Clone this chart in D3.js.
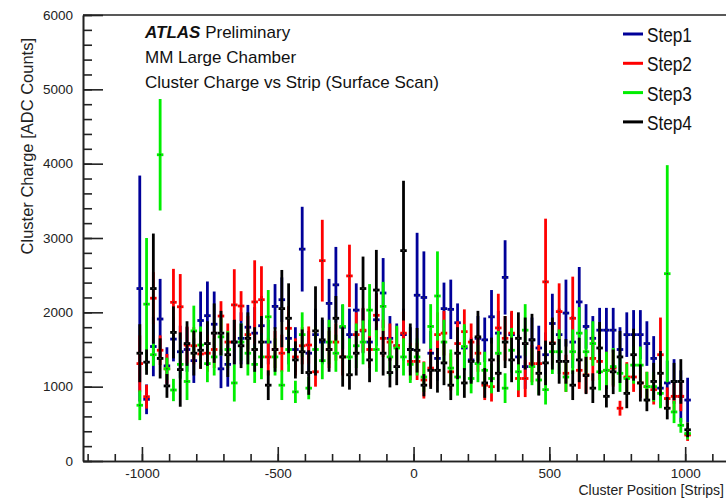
<!DOCTYPE html>
<html lang="en">
  <head>
    <meta charset="UTF-8" />
    <title>MM Large Chamber – Cluster Charge vs Strip</title>
    <script src="https://d3js.org/d3.v7.min.js"></script>
    <style>
      body {
        margin: 0;
        background: #fff;
      }
      svg {
        display: block;
        font-family: 'Liberation Sans', Arial, sans-serif;
      }
      .axis path,
      .axis line {
        stroke: #222;
        stroke-width: 1.6;
      }
      .axis text {
        fill: #222;
        font-size: 13.5px;
      }
    </style>
  </head>
  <body>
    <div id="chart"></div>
    <script>
      // strip bin centres (same grid for all four steps)
      const strips = [
        -1008, -983, -958, -933, -908, -884, -859, -834, -809, -784,
        -759, -734, -709, -684, -660, -635, -610, -585, -560, -535,
        -510, -485, -460, -435, -410, -386, -361, -336, -311, -286,
        -261, -236, -211, -186, -162, -137, -112, -87, -62, -37,
        -12, 13, 38, 63, 88, 112, 137, 162, 187, 212,
        237, 262, 287, 312, 337, 361, 386, 411, 436, 461,
        486, 511, 536, 561, 586, 610, 635, 660, 685, 710,
        735, 760, 785, 810, 835, 859, 884, 909, 934, 959,
        984, 1009,
      ];
      const binHalf = 12;

      // Step1
      const step1 = [
        2320, 830, 1540, 1910, 1280, 1640, 1470, 1500, 1350, 1890,
        1955, 1840, 1240, 1300, 1600, 1650, 1800, 1720, 1820, 1600,
        2080, 2170, 1650, 1500, 2850, 1450, 1700, 1600, 2120, 2370,
        1800, 1700, 2030, 1750, 1600, 1900, 2260, 1650, 1550, 1700,
        1500, 2230, 2200, 1450, 1380, 2050, 2040, 1860, 1520, 1360,
        1650, 1630, 1940, 1720, 2470, 1700, 1400, 1270, 1630, 1520,
        1430, 1850, 1700, 1990, 1600, 2140, 1810, 1650, 1760, 1760,
        1760, 1500, 1700, 1700, 1700, 1580, 1380, 980, 1050, 1070,
        870, 820,
      ];
      const step1Err = [
        1520, 200, 400, 540, 250, 300, 350, 300, 300, 390,
        460, 440, 260, 300, 300, 350, 300, 350, 400, 300,
        300, 300, 350, 300, 570, 300, 350, 300, 330, 510,
        300, 350, 360, 300, 300, 350, 470, 300, 300, 350,
        300, 840, 620, 300, 300, 350, 400, 260, 300, 300,
        300, 300, 360, 300, 500, 300, 300, 300, 300, 300,
        300, 400, 350, 450, 350, 470, 300, 300, 300, 300,
        300, 300, 300, 330, 330, 300, 300, 250, 300, 300,
        350, 300,
      ];

      // Step2
      const step2 = [
        1310, 865, 2190, 1490, 1240, 2135, 2075, 1560, 1550, 1440,
        1450, 1500, 1950, 1600, 2100, 2085, 1700, 2140, 2170, 1400,
        1500, 1450, 1785, 1400, 1550, 1560, 1200, 2695, 1500, 1600,
        1400, 2490, 1700, 1760, 1500, 1960, 1650, 1600, 1550, 1720,
        1340, 1340, 1090, 1250, 1700, 1720, 1200, 1580, 1740, 1600,
        1450, 1020, 1000, 1790, 1650, 1720, 1110, 1110, 1310, 1310,
        2410, 1590, 2010, 1180, 1920, 1220, 1160, 1380, 1340, 1220,
        1250, 710, 1130, 1130, 1050, 1000, 960, 1430, 840, 870,
        870, 350,
      ];
      const step2Err = [
        380, 160, 350, 200, 200, 450, 440, 250, 250, 200,
        250, 250, 200, 250, 480, 200, 250, 560, 450, 250,
        250, 250, 300, 250, 250, 250, 200, 550, 250, 250,
        250, 420, 300, 300, 250, 300, 250, 250, 250, 300,
        250, 250, 250, 250, 300, 300, 250, 300, 300, 250,
        250, 200, 200, 460, 300, 300, 250, 250, 250, 250,
        850, 300, 380, 250, 560, 250, 250, 300, 250, 250,
        250, 100, 200, 200, 200, 200, 200, 500, 150, 200,
        200, 80,
      ];

      // Step3
      const step3 = [
        750, 2110, 1430, 4120, 1240, 955, 1300, 1070, 1750, 1560,
        1310, 1400, 1670, 1500, 1050, 1600, 1450, 1300, 1400, 1940,
        1400, 1020, 1500, 930, 1700, 980, 1500, 1350, 1600, 1450,
        1810, 1400, 1550, 1600, 2030, 1500, 2080, 1400, 1520, 1400,
        1300, 1400, 1130, 1810, 2220, 1600, 1250, 1130, 1540, 1110,
        1310, 1220, 1110, 1450, 980, 1490, 1200, 1760, 1270, 1090,
        960, 1470, 1470, 1130, 1470, 1720, 1470, 1580, 1200, 1220,
        1270, 1180, 1110, 1290, 1290, 1000, 1000, 910, 2520, 660,
        480, 370,
      ];
      const step3Err = [
        200, 890, 150, 750, 150, 150, 200, 250, 340, 250,
        250, 250, 250, 250, 250, 250, 300, 250, 300, 360,
        250, 200, 300, 150, 300, 150, 300, 250, 300, 250,
        300, 250, 300, 300, 350, 300, 330, 250, 300, 250,
        250, 250, 200, 300, 600, 300, 250, 250, 300, 200,
        250, 250, 200, 300, 200, 300, 250, 350, 250, 200,
        200, 300, 300, 200, 300, 350, 300, 300, 250, 250,
        250, 250, 200, 250, 250, 200, 200, 200, 1460, 150,
        100, 80,
      ];

      // Step4
      const step4 = [
        1450, 1330, 2320, 1380, 1010, 1730, 1230, 1580, 1450, 1490,
        1580, 1720, 1720, 1430, 1600, 1550, 1650, 1500, 1600, 1020,
        1500, 2050, 1920, 1360, 1470, 1190, 1750, 1630, 1500, 1920,
        1400, 1160, 1450, 2320, 1360, 2300, 1450, 1190, 1270, 2830,
        1500, 1490, 1020, 1220, 1220, 1320, 1020, 1450, 1050, 1340,
        1670, 1050, 1360, 1180, 1600, 1360, 1650, 1580, 1630, 1180,
        1320, 1580, 1340, 1340, 1020, 1360, 1150, 980, 1520, 870,
        1200, 1400, 910, 1430, 1050, 820, 1070, 1180, 710, 1070,
        1070, 420,
      ];
      const step4Err = [
        390, 170, 740, 270, 160, 350, 500, 300, 300, 250,
        300, 400, 300, 300, 300, 300, 350, 300, 350, 200,
        300, 520, 470, 250, 300, 300, 600, 300, 300, 300,
        400, 200, 300, 430, 300, 540, 300, 200, 250, 940,
        350, 300, 150, 250, 300, 300, 200, 350, 200, 300,
        350, 200, 300, 250, 350, 300, 350, 350, 350, 300,
        300, 350, 300, 300, 200, 300, 250, 200, 350, 150,
        300, 350, 200, 350, 250, 150, 250, 300, 150, 250,
        300, 100,
      ];

      const seriesNames = ['Step1', 'Step2', 'Step3', 'Step4'];
      const seriesColors = ['#000099', '#ff0000', '#00ee00', '#000000'];
      const xMajorTicks = [-1000, -500, 0, 500, 1000];
      const yMajorTicks = [0, 1000, 2000, 3000, 4000, 5000, 6000];
      const infoLines = ['MM Large Chamber', 'Cluster Charge vs Strip (Surface Scan)'];

      const width = 726,
        height = 501;

      const series = [
        { name: seriesNames[0], color: seriesColors[0], y: step1, err: step1Err },
        { name: seriesNames[1], color: seriesColors[1], y: step2, err: step2Err },
        { name: seriesNames[2], color: seriesColors[2], y: step3, err: step3Err },
        { name: seriesNames[3], color: seriesColors[3], y: step4, err: step4Err },
      ];

      const x = d3.scaleLinear().domain([-1217, 1165]).range([83, 730]);
      const y = d3.scaleLinear().domain([0, 6000]).range([461, 15]);

      const svg = d3
        .select('#chart')
        .append('svg')
        .attr('width', width)
        .attr('height', height);

      // frame top line
      svg
        .append('line')
        .attr('x1', 83)
        .attr('x2', 730)
        .attr('y1', 15)
        .attr('y2', 15)
        .attr('stroke', '#222')
        .attr('stroke-width', 1.6);

      // x axis: minor ticks, then major ticks + labels
      svg
        .append('g')
        .attr('class', 'axis')
        .attr('transform', 'translate(0,461)')
        .call(
          d3
            .axisBottom(x)
            .tickValues(d3.range(-1200, 1101, 100))
            .tickSize(-7)
            .tickSizeOuter(0)
            .tickFormat('')
        );
      svg
        .append('g')
        .attr('class', 'axis')
        .attr('transform', 'translate(0,461)')
        .call(
          d3
            .axisBottom(x)
            .tickValues(xMajorTicks)
            .tickSize(-14)
            .tickSizeOuter(0)
            .tickPadding(7)
            .tickFormat((d) => String(d))
        );

      // y axis
      svg
        .append('g')
        .attr('class', 'axis')
        .attr('transform', 'translate(83,0)')
        .call(
          d3
            .axisLeft(y)
            .tickValues(d3.range(0, 6001, 200))
            .tickSize(-9)
            .tickSizeOuter(0)
            .tickFormat('')
        );
      svg
        .append('g')
        .attr('class', 'axis')
        .attr('transform', 'translate(83,0)')
        .call(
          d3
            .axisLeft(y)
            .tickValues(yMajorTicks)
            .tickSize(-20)
            .tickSizeOuter(0)
            .tickPadding(10)
            .tickFormat((d) => String(d))
        );
      svg.selectAll('.axis .tick text').attr('font-family', null);

      // axis titles
      svg
        .append('text')
        .attr('x', 724)
        .attr('y', 495)
        .attr('text-anchor', 'end')
        .attr('font-size', 14)
        .attr('fill', '#222')
        .text('Cluster Position [Strips]');
      svg
        .append('text')
        .attr('transform', 'translate(33,38) rotate(-90)')
        .attr('text-anchor', 'end')
        .attr('font-size', 16.5)
        .attr('fill', '#222')
        .text('Cluster Charge [ADC Counts]');

      // error bars, drawn series by series (Step4 on top)
      const plot = svg.append('g');
      series.forEach((s) => {
        const g = plot.append('g').attr('stroke', s.color).attr('stroke-width', 2.8);
        const pts = strips.map((st, i) => ({ st, v: s.y[i], e: s.err[i] }));
        g.selectAll('line.ey')
          .data(pts)
          .join('line')
          .attr('class', 'ey')
          .attr('x1', (d) => x(d.st))
          .attr('x2', (d) => x(d.st))
          .attr('y1', (d) => y(Math.max(d.v - d.e, 0)))
          .attr('y2', (d) => y(Math.min(d.v + d.e, 6000)));
        g.selectAll('line.ex')
          .data(pts)
          .join('line')
          .attr('class', 'ex')
          .attr('x1', (d) => x(d.st - binHalf))
          .attr('x2', (d) => x(d.st + binHalf))
          .attr('y1', (d) => y(d.v))
          .attr('y2', (d) => y(d.v));
        plot
          .append('g')
          .selectAll('circle')
          .data(pts)
          .join('circle')
          .attr('cx', (d) => x(d.st))
          .attr('cy', (d) => y(d.v))
          .attr('r', 0.8)
          .attr('fill', '#333');
      });

      // ATLAS label block
      const info = svg.append('g').attr('fill', '#111').attr('font-size', 17);
      const atlas = info.append('text').attr('x', 145).attr('y', 38);
      atlas
        .append('tspan')
        .attr('font-weight', 'bold')
        .attr('font-style', 'italic')
        .text('ATLAS');
      atlas.append('tspan').text(' Preliminary');
      infoLines.forEach((t, i) => {
        info
          .append('text')
          .attr('x', 145)
          .attr('y', 63 + i * 25)
          .text(t);
      });

      // legend
      const legend = svg.append('g');
      series.forEach((s, i) => {
        const ly = 42 + i * 29.3;
        legend
          .append('line')
          .attr('x1', 623)
          .attr('x2', 643)
          .attr('y1', ly - 8)
          .attr('y2', ly - 8)
          .attr('stroke', s.color)
          .attr('stroke-width', 3);
        legend
          .append('text')
          .attr('transform', `translate(647,${ly}) scale(0.86,1)`)
          .attr('font-size', 20)
          .attr('fill', '#111')
          .text(s.name);
      });
    </script>
  </body>
</html>
